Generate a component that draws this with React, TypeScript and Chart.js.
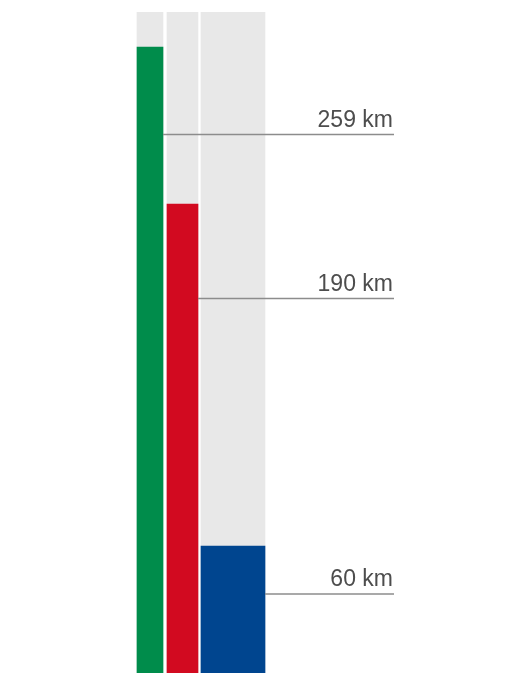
import React, { useEffect, useRef } from "react";
import { Chart, registerables } from "chart.js";

Chart.register(...registerables);

// Data
const categories = ["Green", "Red", "Blue"];
const barValues = [259, 194, 52.5]; // visual bar heights (km scale)
const labelValues = [259, 190, 60]; // printed labels
const leaderValues = [222.8, 155, 32.7]; // where each leader line sits
const scaleMax = 273.5; // grey track height

// Layout / style (not data)
const barCenters = [150, 182.5, 233];
const barWidths = [26, 31, 64];
const barColors = ["#008c4b", "#d20a20", "#00458f"];
const trackColor = "#e8e8e8";
const labelRightX = 394;

const leaderPlugin = {
  id: "leaders",
  afterDatasetsDraw(chart: any) {
    const ctx = chart.ctx;
    const y = chart.scales.y;
    const x = chart.scales.x;
    ctx.save();
    categories.forEach((_, i) => {
      const meta = chart.getDatasetMeta(i);
      const el = meta.data[0];
      const x0 = el.x + el.width / 2;
      const x1 = x.getPixelForValue(labelRightX);
      const yy = y.getPixelForValue(leaderValues[i]);
      ctx.beginPath();
      ctx.strokeStyle = "#8c8c8c";
      ctx.lineWidth = 1.5;
      ctx.moveTo(x0, yy);
      ctx.lineTo(x1, yy);
      ctx.stroke();
      ctx.fillStyle = "#4d4d4d";
      ctx.font = '23px "Liberation Sans", Arial, sans-serif';
      ctx.textAlign = "right";
      ctx.textBaseline = "alphabetic";
      ctx.fillText(`${labelValues[i]} km`, x1 - 1, yy - 7.5);
    });
    ctx.restore();
  },
};

export default function App() {
  const ref = useRef<HTMLCanvasElement | null>(null);
  useEffect(() => {
    if (!ref.current) return;
    const barSets = categories.map((c, i) => ({
      label: c,
      data: [{ x: barCenters[i], y: barValues[i] }],
      backgroundColor: barColors[i],
      barThickness: barWidths[i],
      grouped: false,
      borderWidth: 0,
      order: 0,
    }));
    const trackSets = categories.map((c, i) => ({
      label: c + " track",
      data: [{ x: barCenters[i], y: scaleMax }],
      backgroundColor: trackColor,
      barThickness: barWidths[i],
      grouped: false,
      borderWidth: 0,
      order: 1,
    }));
    const chart = new Chart(ref.current, {
      type: "bar",
      data: { datasets: [...barSets, ...trackSets] as any },
      options: {
        animation: false,
        responsive: false,
        devicePixelRatio: 1,
        layout: { padding: { top: 12, bottom: 0, left: 0, right: 0 } },
        plugins: { legend: { display: false }, tooltip: { enabled: false } },
        scales: {
          x: { type: "linear", display: false, min: 0, max: 522, offset: false, grid: { offset: false } },
          y: { display: false, min: 0, max: scaleMax },
        },
      },
      plugins: [leaderPlugin],
    });
    return () => chart.destroy();
  }, []);
  return (
    <canvas
      ref={ref}
      width={522}
      height={673}
      style={{ position: "fixed", left: 0, top: 0, width: 522, height: 673, display: "block" }}
    />
  );
}
